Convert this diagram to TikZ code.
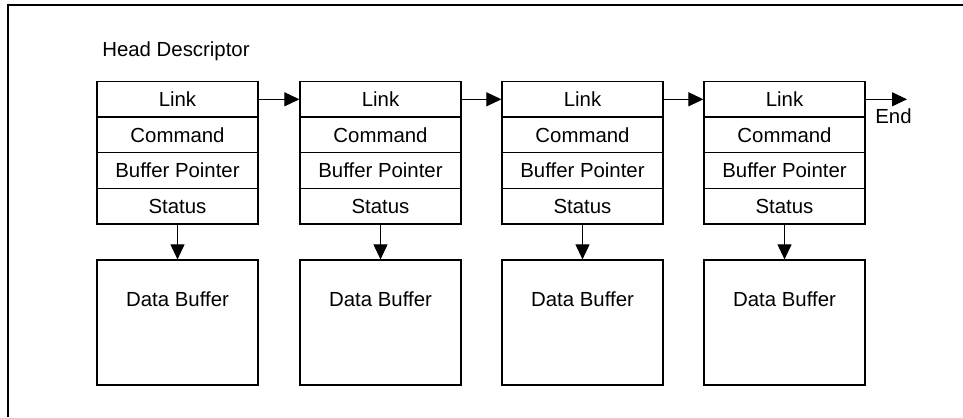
\documentclass[tikz,border=0pt]{standalone}
\usepackage{fontspec}
\setmainfont{Liberation Sans}
\usetikzlibrary{arrows.meta}
\tikzset{
  fieldNode/.style={draw=black, line width=0.7pt, fill=white, align=center, inner sep=0pt, minimum width=3.22cm, minimum height=0.712cm, font=\fontsize{11.6}{14}\selectfont},
  bufferNode/.style={draw=black, line width=0.7pt, fill=white, inner sep=0pt, minimum width=3.22cm, minimum height=2.5cm},
  textNode/.style={inner sep=0pt, font=\fontsize{11.6}{14}\selectfont},
  linkEdge/.style={-{Triangle[length=0.3cm, width=0.28cm]}, draw=black, line width=0.6pt},
  frameLine/.style={draw=black, line width=1.1pt}
}
\begin{document}
\begin{tikzpicture}[x=1cm,y=1cm]
  \useasboundingbox (0,0) rectangle (19.26,-8.34);

  \draw[frameLine] (0.16,-8.34) -- (0.16,-0.1) -- (19.26,-0.1);

  \node[textNode, anchor=west] (HD) at (2.04,-1.02) {Head Descriptor};

  \node[fieldNode] (L1) at (3.55,-1.986) {Link};
  \node[fieldNode] (C1) at (3.55,-2.698) {Command};
  \node[fieldNode] (P1) at (3.55,-3.41) {Buffer Pointer};
  \node[fieldNode] (S1) at (3.55,-4.122) {Status};

  \node[fieldNode] (L2) at (7.61,-1.986) {Link};
  \node[fieldNode] (C2) at (7.61,-2.698) {Command};
  \node[fieldNode] (P2) at (7.61,-3.41) {Buffer Pointer};
  \node[fieldNode] (S2) at (7.61,-4.122) {Status};

  \node[fieldNode] (L3) at (11.65,-1.986) {Link};
  \node[fieldNode] (C3) at (11.65,-2.698) {Command};
  \node[fieldNode] (P3) at (11.65,-3.41) {Buffer Pointer};
  \node[fieldNode] (S3) at (11.65,-4.122) {Status};

  \node[fieldNode] (L4) at (15.69,-1.986) {Link};
  \node[fieldNode] (C4) at (15.69,-2.698) {Command};
  \node[fieldNode] (P4) at (15.69,-3.41) {Buffer Pointer};
  \node[fieldNode] (S4) at (15.69,-4.122) {Status};

  \node[bufferNode, label={[textNode, anchor=center, yshift=-0.8cm]north:Data Buffer}] (D1) at (3.55,-6.45) {};
  \node[bufferNode, label={[textNode, anchor=center, yshift=-0.8cm]north:Data Buffer}] (D2) at (7.61,-6.45) {};
  \node[bufferNode, label={[textNode, anchor=center, yshift=-0.8cm]north:Data Buffer}] (D3) at (11.65,-6.45) {};
  \node[bufferNode, label={[textNode, anchor=center, yshift=-0.8cm]north:Data Buffer}] (D4) at (15.69,-6.45) {};

  \coordinate (END) at (18.14,-1.986);
  \node[textNode, anchor=west] (ENDT) at (17.5,-2.32) {End};

  \draw[linkEdge] (L1) -- (L2);
  \draw[linkEdge] (L2) -- (L3);
  \draw[linkEdge] (L3) -- (L4);
  \draw[linkEdge] (L4) -- (END);

  \draw[linkEdge] (S1) -- (D1);
  \draw[linkEdge] (S2) -- (D2);
  \draw[linkEdge] (S3) -- (D3);
  \draw[linkEdge] (S4) -- (D4);
\end{tikzpicture}
\end{document}
